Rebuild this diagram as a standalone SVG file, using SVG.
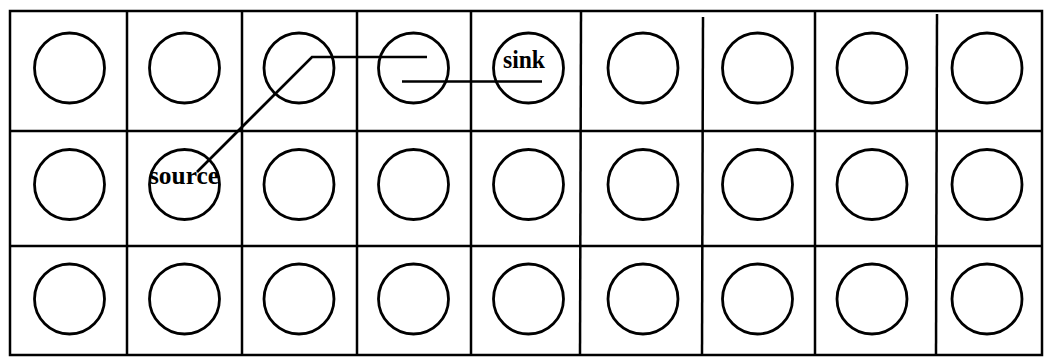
<svg xmlns="http://www.w3.org/2000/svg" width="1044" height="357" viewBox="0 0 1044 357">
<style>
.grid{stroke:#000;stroke-width:2.5;fill:none}
.cell{fill:none;stroke:#000;stroke-width:2.8}
.wire{fill:none;stroke:#000;stroke-width:2.7;stroke-linejoin:miter}
.lbl{font-family:"Liberation Serif","Times New Roman",serif;font-weight:bold;font-size:26px;fill:#000}
</style>
<rect width="1044" height="357" fill="#fff"/>
<g id="grid" class="grid">
<rect x="10" y="11" width="1032" height="344"/>
<line x1="10" y1="131" x2="1042" y2="131"/>
<line x1="10" y1="246" x2="1042" y2="246"/>
<line x1="127" y1="11" x2="127" y2="355"/>
<line x1="242" y1="11" x2="242" y2="355"/>
<line x1="357" y1="11" x2="357" y2="355"/>
<line x1="471" y1="11" x2="471" y2="355"/>
<line x1="581" y1="11" x2="580" y2="355"/>
<line x1="703" y1="17" x2="702" y2="355"/>
<line x1="815" y1="11" x2="815" y2="355"/>
<line x1="937" y1="14" x2="936" y2="355"/>
</g>
<g id="row0">
<g id="n0_0"><circle class="cell" cx="69.5" cy="68" r="35"/></g>
<g id="n0_1"><circle class="cell" cx="184.5" cy="68" r="35"/></g>
<g id="n0_2"><circle class="cell" cx="299" cy="68" r="35"/></g>
<g id="n0_3"><circle class="cell" cx="413.5" cy="68" r="35"/></g>
<g id="n0_4"><circle class="cell" cx="528.5" cy="68" r="35"/><text class="lbl" x="503" y="68" textLength="42" lengthAdjust="spacingAndGlyphs">sink</text></g>
<g id="n0_5"><circle class="cell" cx="643" cy="68" r="35"/></g>
<g id="n0_6"><circle class="cell" cx="757.5" cy="68" r="35"/></g>
<g id="n0_7"><circle class="cell" cx="872" cy="68" r="35"/></g>
<g id="n0_8"><circle class="cell" cx="987" cy="68" r="35"/></g>
</g>
<g id="row1">
<g id="n1_0"><circle class="cell" cx="69.5" cy="184.5" r="35"/></g>
<g id="n1_1"><circle class="cell" cx="184.5" cy="184.5" r="35"/><text class="lbl" x="149" y="184" textLength="70" lengthAdjust="spacingAndGlyphs">source</text></g>
<g id="n1_2"><circle class="cell" cx="299" cy="184.5" r="35"/></g>
<g id="n1_3"><circle class="cell" cx="413.5" cy="184.5" r="35"/></g>
<g id="n1_4"><circle class="cell" cx="528.5" cy="184.5" r="35"/></g>
<g id="n1_5"><circle class="cell" cx="643" cy="184.5" r="35"/></g>
<g id="n1_6"><circle class="cell" cx="757.5" cy="184.5" r="35"/></g>
<g id="n1_7"><circle class="cell" cx="872" cy="184.5" r="35"/></g>
<g id="n1_8"><circle class="cell" cx="987" cy="184.5" r="35"/></g>
</g>
<g id="row2">
<g id="n2_0"><circle class="cell" cx="69.5" cy="299" r="35"/></g>
<g id="n2_1"><circle class="cell" cx="184.5" cy="299" r="35"/></g>
<g id="n2_2"><circle class="cell" cx="299" cy="299" r="35"/></g>
<g id="n2_3"><circle class="cell" cx="413.5" cy="299" r="35"/></g>
<g id="n2_4"><circle class="cell" cx="528.5" cy="299" r="35"/></g>
<g id="n2_5"><circle class="cell" cx="643" cy="299" r="35"/></g>
<g id="n2_6"><circle class="cell" cx="757.5" cy="299" r="35"/></g>
<g id="n2_7"><circle class="cell" cx="872" cy="299" r="35"/></g>
<g id="n2_8"><circle class="cell" cx="987" cy="299" r="35"/></g>
</g>
<g id="connectors">
<polyline class="wire" points="197,172 312,57 427,57"/>
<line class="wire" x1="402" y1="81.5" x2="542" y2="81.5"/>
</g>
</svg>
